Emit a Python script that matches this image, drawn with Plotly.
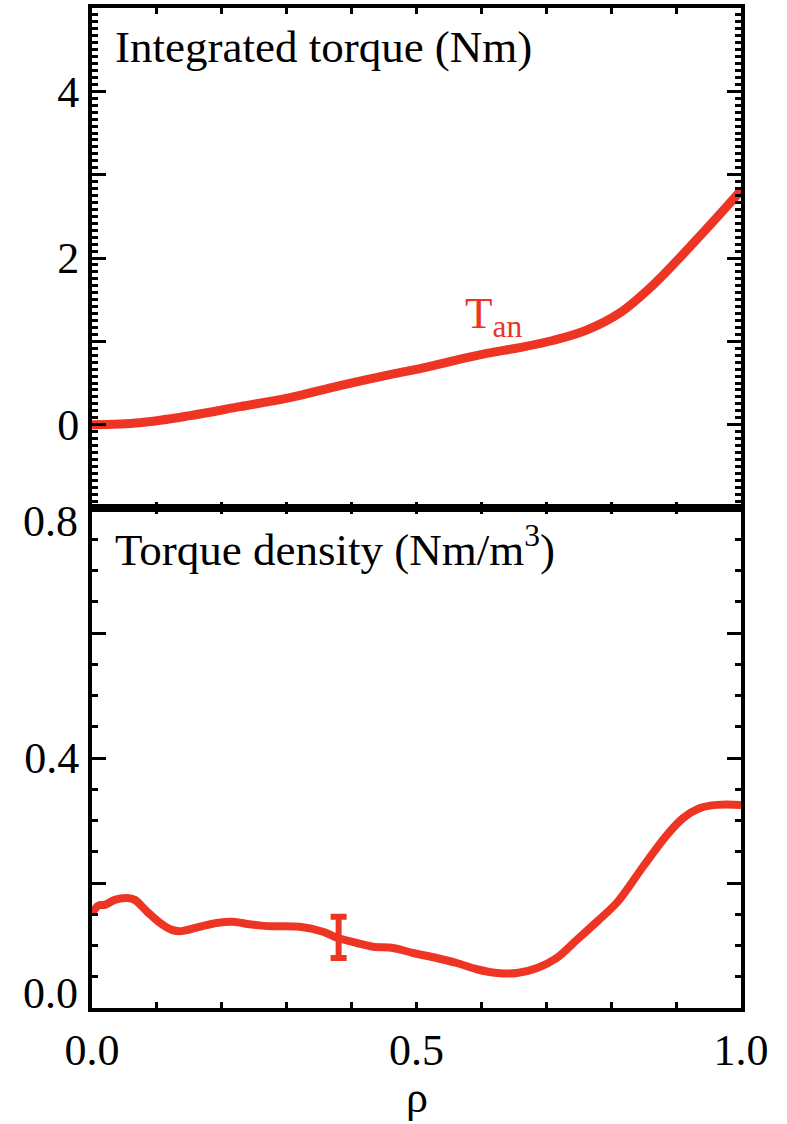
import plotly.graph_objects as go

# ---------------- data ----------------
rho_int = [0.0, 0.074, 0.151, 0.228, 0.305, 0.382, 0.459, 0.516, 0.556, 0.608,
           0.659, 0.71, 0.762, 0.813, 0.865, 0.916, 0.968, 1.0]
torque_int = [0.0, 0.024, 0.108, 0.216, 0.324, 0.468, 0.60, 0.69, 0.765, 0.855,
              0.925, 1.01, 1.135, 1.34, 1.68, 2.09, 2.53, 2.81]

rho_den = [0.0, 0.01, 0.02, 0.035, 0.054, 0.066, 0.085, 0.105, 0.123, 0.138,
           0.166, 0.192, 0.217, 0.243, 0.27, 0.32, 0.356, 0.379, 0.408, 0.433,
           0.464, 0.495, 0.531, 0.562, 0.593, 0.624, 0.655, 0.686, 0.716, 0.747,
           0.78, 0.81, 0.849, 0.886, 0.911, 0.937, 0.963, 1.0]
torque_den = [0.152, 0.164, 0.165, 0.173, 0.176, 0.173, 0.154, 0.136, 0.125, 0.123,
              0.130, 0.136, 0.138, 0.134, 0.131, 0.130, 0.122, 0.112, 0.104, 0.098,
              0.096, 0.088, 0.080, 0.072, 0.062, 0.056, 0.056, 0.064, 0.080, 0.109,
              0.14, 0.17, 0.226, 0.277, 0.304, 0.32, 0.325, 0.325]

err_rho = [0.38]
err_val = [0.113]
err_size = [0.033]

top_label_vals = [0, 2, 4]
top_label_text = ["0", "2", "4"]
top_unlabeled_major = [1, 3]
bot_label_vals = [0.4]
bot_label_text = ["0.4"]
bot_unlabeled_major = [0.0, 0.2, 0.6, 0.8]
bot_edge_vals = [0.0, 0.8]
bot_edge_text = ["0.0", "0.8"]
x_label_vals = [0.0, 0.5, 1.0]
x_label_text = ["0.0", "0.5", "1.0"]

title_top = "Integrated torque (Nm)"
title_bot = "Torque density (Nm/m<sup>3</sup>)"
curve_label = "T<sub>an</sub>"
x_title = "ρ"

RED = "#EE3524"
FONT = "Liberation Serif"

fig = go.Figure()
fig.add_trace(go.Scatter(x=rho_int, y=torque_int, xaxis="x2", yaxis="y2", mode="lines",
                         line=dict(color=RED, width=9, shape="spline", smoothing=1.0),
                         showlegend=False, hoverinfo="skip"))
fig.add_trace(go.Scatter(x=rho_den, y=torque_den, xaxis="x", yaxis="y", mode="lines",
                         line=dict(color=RED, width=8, shape="spline", smoothing=0.9),
                         showlegend=False, hoverinfo="skip"))
fig.add_trace(go.Scatter(x=err_rho, y=err_val, xaxis="x", yaxis="y", mode="markers",
                         marker=dict(size=0.1, color=RED),
                         error_y=dict(type="data", array=err_size, color=RED, thickness=6, width=8),
                         showlegend=False, hoverinfo="skip"))

common = dict(showline=True, linewidth=4, linecolor="black", mirror="ticks",
              ticks="inside", showgrid=False, zeroline=False, tickcolor="black",
              tickwidth=3, automargin=False,
              tickfont=dict(family=FONT, size=44, color="black"))
x_minor = dict(dtick=0.1, tick0=0, ticklen=6, tickwidth=3, ticks="inside", tickcolor="black")

fig.update_layout(
    width=787, height=1124,
    margin=dict(l=92, r=46, t=8, b=116),
    paper_bgcolor="white", plot_bgcolor="white",
    font=dict(family=FONT, color="black"),
    xaxis=dict(domain=[0, 1], anchor="y", range=[0, 1], tickmode="array",
               tickvals=x_label_vals, ticktext=x_label_text, ticklen=6,
               minor=x_minor, **common),
    xaxis2=dict(domain=[0, 1], anchor="y2", range=[0, 1], tickmode="array",
                tickvals=x_label_vals, ticklen=6, showticklabels=False,
                minor=x_minor, **common),
    yaxis=dict(domain=[0, 0.5], anchor="x", range=[0, 0.8], tickmode="array",
               tickvals=bot_label_vals, ticktext=bot_label_text, ticklen=14,
               minor=dict(dtick=0.05, tick0=0, ticklen=6, tickwidth=3, ticks="inside",
                          tickcolor="black"),
               **common),
    yaxis2=dict(domain=[0.5, 1], anchor="x2", range=[-1, 5], tickmode="array",
                tickvals=top_label_vals, ticktext=top_label_text, ticklen=14,
                minor=dict(dtick=1 / 12, tick0=0, ticklen=6, tickwidth=3, ticks="inside",
                           tickcolor="black"),
                **common),
    yaxis3=dict(overlaying="y2", anchor="x2", range=[-1, 5], tickmode="array",
                tickvals=top_unlabeled_major, ticklen=14, showticklabels=False,
                **common),
    yaxis4=dict(overlaying="y", anchor="x", range=[0, 0.8], tickmode="array",
                tickvals=bot_unlabeled_major, ticklen=14, showticklabels=False,
                **common),
)

# invisible helper traces so the overlay axes are drawn
fig.add_trace(go.Scatter(x=[None], y=[None], xaxis="x2", yaxis="y3", showlegend=False,
                         hoverinfo="skip"))
fig.add_trace(go.Scatter(x=[None], y=[None], xaxis="x", yaxis="y4", showlegend=False,
                         hoverinfo="skip"))

annotations = []
shifts = [15, -13]
for v, t, s in zip(bot_edge_vals, bot_edge_text, shifts):
    annotations.append(dict(x=0, xref="paper", y=v, yref="y", text=t, showarrow=False,
                            xanchor="right", yanchor="middle", xshift=-12, yshift=s,
                            font=dict(family=FONT, size=44, color="black")))
annotations.append(dict(x=0.032, xref="paper", y=0.961, yref="paper", text=title_top,
                        showarrow=False, xanchor="left", yanchor="middle",
                        font=dict(family=FONT, size=45, color="black")))
annotations.append(dict(x=0.032, xref="paper", y=0.461, yref="paper", text=title_bot,
                        showarrow=False, xanchor="left", yanchor="middle",
                        font=dict(family=FONT, size=45, color="black")))
annotations.append(dict(x=0.572, xref="x2", y=1.31, yref="y2", text=curve_label,
                        showarrow=False, xanchor="left", yanchor="middle",
                        font=dict(family=FONT, size=45, color=RED)))
annotations.append(dict(x=0.5, xref="paper", y=-0.089, yref="paper", text=x_title,
                        showarrow=False, xanchor="center", yanchor="middle",
                        font=dict(family=FONT, size=44, color="black")))
fig.update_layout(annotations=annotations)

fig.write_html("out.html")
